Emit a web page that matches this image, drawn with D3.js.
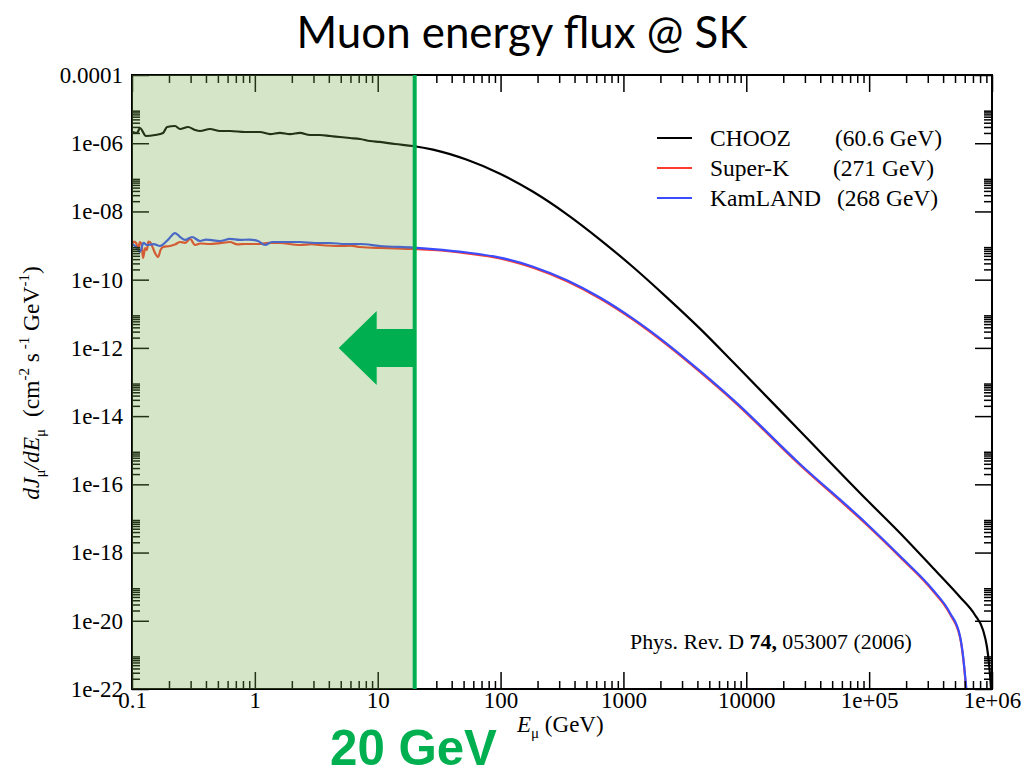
<!DOCTYPE html>
<html>
<head>
<meta charset="utf-8">
<script src="https://cdn.jsdelivr.net/npm/d3@7"></script>
<style>
html,body{margin:0;padding:0;background:#fff;}
svg{display:block;}
text{white-space:pre;}
</style>
</head>
<body>
<svg id="chart" width="1028" height="772"></svg>
<script>
// ---------------- data ----------------
const xTickValues = [0.1, 1, 10, 100, 1000, 10000, 1e5, 1e6];
const xTickLabels = ["0.1", "1", "10", "100", "1000", "10000", "1e+05", "1e+06"];
const yTickValues = [1e-4, 1e-6, 1e-8, 1e-10, 1e-12, 1e-14, 1e-16, 1e-18, 1e-20, 1e-22];
const yTickLabels = ["0.0001", "1e-06", "1e-08", "1e-10", "1e-12", "1e-14", "1e-16", "1e-18", "1e-20", "1e-22"];

const seriesNames = ["CHOOZ", "Super-K", "KamLAND"];
const seriesMeanEnergy = ["(60.6 GeV)", "(271 GeV)", "(268 GeV)"];

const choozE = [0.1,0.11,0.116,0.13,0.154,0.179,0.193,0.224,0.246,0.286,0.326,0.358,0.431,0.52,0.628,0.831,1.10,1.33,1.60,1.93,2.33,2.81,3.39,4.09,4.93,5.95,7.18,8.66,10.4,13.8,19.4,
  28.2,53.3,98.9,184,347,644,1196,2263,4198,7797,27350,95980,178200,331000,548500,726500,845000,910000,945000,982000,1e6];
const choozFlux = [2.18e-6,2.0e-6,2.79e-6,1.63e-6,1.74e-6,2.0e-6,2.99e-6,3.2e-6,2.61e-6,2.99e-6,2.44e-6,2.28e-6,2.61e-6,2.28e-6,2.28e-6,2.13e-6,2.13e-6,1.86e-6,2.0e-6,1.86e-6,2.0e-6,1.74e-6,1.74e-6,1.63e-6,1.52e-6,1.42e-6,1.33e-6,1.16e-6,1.09e-6,9.5e-7,8.3e-7,
  6.5e-7,3.27e-7,1.28e-7,3.77e-8,8.24e-9,1.5e-9,2.35e-10,2.98e-11,3.67e-12,3.85e-13,3.66e-15,3.47e-17,3.74e-18,3.52e-19,4.97e-20,1.48e-20,5.36e-21,1.70e-21,5.78e-22,1.0e-22,3e-23];

const superkE = [0.1,0.104,0.108,0.112,0.116,0.12,0.123,0.128,0.132,0.136,0.140,0.147,0.154,0.163,0.171,0.179,0.204,0.226,0.246,0.27,0.297,0.326,0.36,0.431,0.52,0.628,0.72,0.831,1.10,1.30,1.60,2.33,2.9,3.39,4.93,6.0,7.18,10.4,14,19.4,
  28.2,53.3,98.9,184,347,644,1196,2263,4198,7797,27350,95980,178200,331000,455000,548500,580000,603000,620000];
const superkFlux = [1.04e-9,1.3e-9,1.19e-9,8.0e-10,1.27e-9,1.0e-9,4.31e-10,8.47e-10,7.41e-10,1.3e-9,1.27e-9,9.0e-10,6.05e-10,4.61e-10,7.5e-10,9.06e-10,9.7e-10,1.1e-9,1.27e-9,1.2e-9,1.56e-9,1.04e-9,1.15e-9,1.11e-9,1.18e-9,1.27e-9,1.08e-9,1.11e-9,1.11e-9,1.2e-9,1.19e-9,1.04e-9,1.1e-9,1.04e-9,9.7e-10,1.0e-9,9.06e-10,8.47e-10,8.3e-10,7.92e-10,
  7.41e-10,5.85e-10,4.17e-10,2.24e-10,8.96e-11,2.8e-11,6.75e-12,1.23e-12,1.98e-13,2.85e-14,3.68e-16,6.41e-18,7.4e-19,7.45e-20,1.58e-20,3.34e-21,9.27e-22,2.4e-22,6.6e-23];

const kamlandE = [0.1,0.108,0.116,0.124,0.132,0.15,0.169,0.196,0.224,0.25,0.270,0.308,0.358,0.4,0.431,0.520,0.628,0.757,0.9,1.06,1.21,1.38,1.76,2.33,3.09,4.09,5.42,7.18,10.4,19.4,
  28.2,53.3,98.9,184,347,644,1196,2263,4198,7797,27350,95980,178200,331000,455000,548500,580000,603000,625000];
const kamlandFlux = [1.11e-9,9.06e-10,6.47e-10,1.2e-9,1.04e-9,1.1e-9,9.7e-10,1.46e-9,2.33e-9,1.7e-9,1.46e-9,1.78e-9,1.36e-9,1.5e-9,1.46e-9,1.36e-9,1.56e-9,1.46e-9,1.5e-9,1.36e-9,1.04e-9,1.27e-9,1.27e-9,1.27e-9,1.19e-9,1.19e-9,1.11e-9,1.11e-9,9.7e-10,8.7e-10,
  7.9e-10,6.25e-10,4.45e-10,2.4e-10,9.6e-11,3.0e-11,7.2e-12,1.32e-12,2.12e-13,3.05e-14,3.95e-16,6.9e-18,7.9e-19,8.0e-20,1.7e-20,3.6e-21,1.0e-21,2.6e-22,7e-23];

const cutEnergy = 20; // GeV
const cutLabel = "20 GeV";

// ---------------- layout ----------------
const svg = d3.select("#chart");
const L = 132, R = 992, T = 75, B = 689;
const x = d3.scaleLog().domain([0.1, 1e6]).range([L, R]);
const y = d3.scaleLog().domain([1e-22, 1e-4]).range([B, T]);
const serif = "'Liberation Serif','Times New Roman',serif";

svg.append("defs").append("clipPath").attr("id", "clip")
  .append("rect").attr("x", L).attr("y", T).attr("width", R - L).attr("height", B - T);

function fitText(sel, width) {
  const fs = parseFloat(sel.attr("font-size"));
  const w = sel.node().getComputedTextLength();
  sel.attr("font-size", fs * width / w);
}

// title
const title = svg.append("text").attr("x", 522).attr("y", 48).attr("text-anchor", "middle")
  .attr("font-family", "Lato, 'Open Sans', sans-serif").attr("font-size", 36).attr("fill", "#000")
  .text("Muon energy flux @ SK");
fitText(title, 451);

// curves
const line = d3.line().x(d => x(d[0])).y(d => y(d[1])).curve(d3.curveMonotoneX);
const curves = svg.append("g").attr("clip-path", "url(#clip)");
const series = [
  {E: choozE, F: choozFlux, color: "#000000"},
  {E: superkE, F: superkFlux, color: "#ff3a2e"},
  {E: kamlandE, F: kamlandFlux, color: "#3a4cff"}
];
series.forEach(s => {
  curves.append("path").datum(s.E.map((e, i) => [e, s.F[i]]))
    .attr("d", line).attr("fill", "none").attr("stroke", s.color).attr("stroke-width", 2.2)
    .attr("stroke-linejoin", "round");
});

// axes with inward ticks
function minorTicks(decades) {
  const out = [];
  decades.forEach(d => { for (let k = 2; k <= 9; k++) out.push(d * k); });
  return out;
}
const xMinor = minorTicks(xTickValues.slice(0, -1));
const yMinor = minorTicks(yTickValues.slice(1));

const axB = d3.axisBottom(x).tickValues(xTickValues).tickSize(-17).tickFormat((d, i) => xTickLabels[i]).tickPadding(3);
const axBm = d3.axisBottom(x).tickValues(xMinor).tickSize(-8).tickFormat("");
const axT = d3.axisTop(x).tickValues(xTickValues).tickSize(-17).tickFormat("");
const axTm = d3.axisTop(x).tickValues(xMinor).tickSize(-8).tickFormat("");
const axL = d3.axisLeft(y).tickValues(yTickValues).tickSize(-17).tickFormat((d, i) => yTickLabels[i]).tickPadding(9);
const axLm = d3.axisLeft(y).tickValues(yMinor).tickSize(-8).tickFormat("");
const axR = d3.axisRight(y).tickValues(yTickValues).tickSize(-17).tickFormat("");
const axRm = d3.axisRight(y).tickValues(yMinor).tickSize(-8).tickFormat("");

function styleAxis(g) {
  g.select(".domain").remove();
  g.selectAll(".tick line").attr("stroke", "#000").attr("stroke-width", 1.5);
  g.selectAll(".tick text").attr("font-family", serif).attr("font-size", 23).attr("fill", "#000");
}
svg.append("g").attr("transform", `translate(0,${B})`).call(axB).call(styleAxis);
svg.append("g").attr("transform", `translate(0,${B})`).call(axBm).call(styleAxis);
svg.append("g").attr("transform", `translate(0,${T})`).call(axT).call(styleAxis);
svg.append("g").attr("transform", `translate(0,${T})`).call(axTm).call(styleAxis);
svg.append("g").attr("transform", `translate(${L},0)`).call(axL).call(styleAxis);
svg.append("g").attr("transform", `translate(${L},0)`).call(axLm).call(styleAxis);
svg.append("g").attr("transform", `translate(${R},0)`).call(axR).call(styleAxis);
svg.append("g").attr("transform", `translate(${R},0)`).call(axRm).call(styleAxis);

// frame
svg.append("rect").attr("x", L).attr("y", T).attr("width", R - L).attr("height", B - T)
  .attr("fill", "none").attr("stroke", "#000").attr("stroke-width", 2);

// legend
const legY = [138, 168, 198];
const legend = svg.append("g");
series.forEach((s, i) => {
  legend.append("line").attr("x1", 657).attr("x2", 692).attr("y1", legY[i]).attr("y2", legY[i])
    .attr("stroke", s.color).attr("stroke-width", 2.2);
  legend.append("text").attr("x", 710).attr("y", legY[i] + 8).attr("font-family", serif).attr("font-size", 23.5)
    .text(seriesNames[i]);
  legend.append("text").attr("x", [835, 833, 837][i]).attr("y", legY[i] + 8).attr("font-family", serif).attr("font-size", 23.5)
    .text(seriesMeanEnergy[i]);
});

// citation
const cite = svg.append("text").attr("x", 630).attr("y", 649).attr("font-family", serif).attr("font-size", 20);
cite.append("tspan").text("Phys. Rev. D ");
cite.append("tspan").attr("font-weight", "bold").text("74,");
cite.append("tspan").text(" 053007 (2006)");
fitText(cite, 282);

// x label
const xl = svg.append("text").attr("x", 517).attr("y", 732).attr("font-family", serif).attr("font-size", 23);
xl.append("tspan").attr("font-style", "italic").text("E");
xl.append("tspan").attr("font-size", 15).attr("dy", 6).text("μ");
xl.append("tspan").attr("dy", -6).text(" (GeV)");

// y label
const yl = svg.append("text").attr("transform", "translate(39,383) rotate(-90)").attr("text-anchor", "middle")
  .attr("font-family", serif).attr("font-size", 23.5);
yl.append("tspan").attr("font-style", "italic").text("dJ");
yl.append("tspan").attr("font-size", 15).attr("dy", 6).text("μ");
yl.append("tspan").attr("font-style", "italic").attr("dy", -6).text("/dE");
yl.append("tspan").attr("font-size", 15).attr("dy", 6).text("μ");
yl.append("tspan").attr("dy", -6).text("  (cm");
yl.append("tspan").attr("font-size", 15).attr("dy", -10).text("-2");
yl.append("tspan").attr("dy", 10).text(" s");
yl.append("tspan").attr("font-size", 15).attr("dy", -10).text(" -1");
yl.append("tspan").attr("dy", 10).text(" GeV");
yl.append("tspan").attr("font-size", 15).attr("dy", -10).text("-1");
yl.append("tspan").attr("dy", 10).text(")");

// shaded region (semi-transparent overlay)
svg.append("rect").attr("x", x(0.1)).attr("y", T).attr("width", x(cutEnergy) - x(0.1)).attr("height", B - T)
  .attr("fill", "#70AD47").attr("opacity", 0.3);

// vertical cut line
svg.append("line").attr("x1", x(cutEnergy)).attr("x2", x(cutEnergy)).attr("y1", T).attr("y2", B)
  .attr("stroke", "#00B050").attr("stroke-width", 4);

// arrow
const xc = x(cutEnergy);
const ay = 348;
svg.append("path").attr("fill", "#00B050")
  .attr("d", `M${xc},${ay - 19} L${xc - 38},${ay - 19} L${xc - 38},${ay - 37} L${xc - 76},${ay} L${xc - 38},${ay + 37} L${xc - 38},${ay + 19} L${xc},${ay + 19} Z`);

// 20 GeV label
const cl = svg.append("text").attr("x", 330).attr("y", 765).attr("font-family", "'Liberation Sans', Arial, sans-serif")
  .attr("font-weight", "bold").attr("font-size", 46).attr("fill", "#00B050").text(cutLabel);
fitText(cl, 167);
</script>
</body>
</html>
